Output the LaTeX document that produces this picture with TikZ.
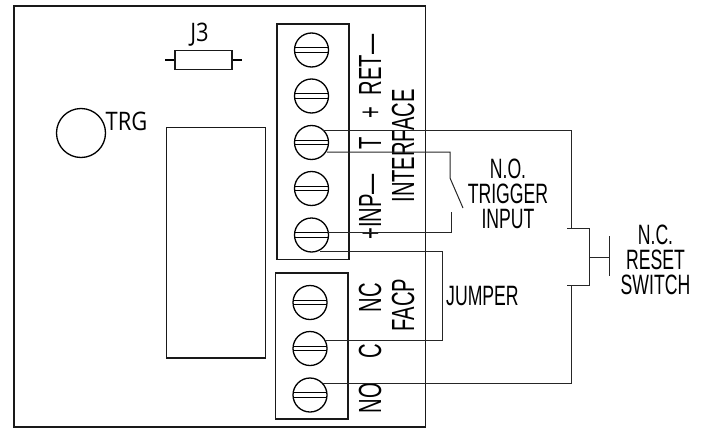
\documentclass[tikz,border=0pt]{standalone}
\usepackage{fontspec}
\setmainfont{Liberation Sans}
\newfontfamily\condf[FakeStretch=0.63]{Liberation Sans}
\newfontfamily\humf[FakeStretch=0.86]{Open Sans}
\usetikzlibrary{calc}
\tikzset{
  boxline/.style={draw=black!90,line width=1.8pt},
  wire/.style={draw=black!85,line width=1pt},
  screwhead/.style={circle,draw=black,line width=1.3pt,minimum size=34pt,inner sep=0pt},
  slot/.style={draw=black,line width=1.2pt},
  termlabel/.style={font=\condf\fontsize{32}{32}\selectfont,rotate=90,inner sep=0pt,text=black},
  sidelabel/.style={font=\condf\fontsize{28}{25}\selectfont,align=center,inner sep=0pt,text=black},
  humlabel/.style={font=\humf\fontsize{25.5}{25.5}\selectfont,inner sep=0pt,text=black}
}
\newcommand{\screwat}[3]{%
  \node[screwhead] (#1) at (#2,#3) {};
  \draw[slot] ($(#1)+(-16.5,-2.2)$) -- ($(#1)+(16.5,-2.2)$);
  \draw[slot] ($(#1)+(-16.5,2.2)$) -- ($(#1)+(16.5,2.2)$);
}
\begin{document}
\begin{tikzpicture}[x=1pt,y=-1pt]
\useasboundingbox (0,0) rectangle (708,428);
% board and blocks
\draw[boxline] (14,6) rectangle (425.5,427);
\draw[boxline] (277,24) rectangle (349,259.5);
\draw[boxline] (275.5,273) rectangle (348,419);
\draw[boxline] (166.5,127.5) rectangle (265.5,358);
% J3
\node[draw=black!90,line width=1.4pt,minimum width=57pt,minimum height=19pt,inner sep=0pt] (j3) at (203.5,60) {};
\coordinate (j3l) at (165,60);
\coordinate (j3r) at (241.5,60);
\draw[line width=1.2pt] (j3l) -- (j3.west);
\draw[line width=1.2pt] (j3.east) -- (j3r);
\node[humlabel] (j3t) at (199.5,34.5) {J3};
% TRG
\node[circle,draw=black,line width=1.3pt,minimum size=49pt,inner sep=0pt] (trg) at (81,133) {};
\node[humlabel,anchor=west] (trgt) at (105.5,121) {TRG};
% screws
\screwat{a}{311.5}{50}
\screwat{b}{311.5}{96}
\screwat{c}{311.5}{142.5}
\screwat{d}{311.5}{188.5}
\screwat{e}{311.5}{235}
\screwat{f}{310}{302.5}
\screwat{g}{310}{348.5}
\screwat{h}{310}{395}
% terminal labels
\node[termlabel] (ret) at (370,65) {RET—};
\node[termlabel] (plus) at (372,113) {+};
\node[termlabel] (tl) at (370,143) {T};
\node[termlabel] (inp) at (370,207) {+INP—};
\node[termlabel] (iface) at (403,146) {INTERFACE};
\node[termlabel] (nc) at (370,297.5) {NC};
\node[termlabel] (facp) at (403,305) {FACP};
\node[termlabel] (cl) at (370,351) {C};
\node[termlabel] (no) at (370,398) {NO};
% side labels
\node[sidelabel] (trig) at (508,194) {N.O.\\TRIGGER\\INPUT};
\node[sidelabel,anchor=west] (jump) at (446,296) {JUMPER};
\node[sidelabel] (reset) at (655.5,260) {N.C.\\RESET\\SWITCH};
% wires
\coordinate (w1) at (323,130.5);
\coordinate (w1c) at (571,130.5);
\coordinate (w1d) at (571,228.5);
\coordinate (sa) at (567,228.5);
\coordinate (sb) at (589,228.5);
\coordinate (sc) at (589,285);
\coordinate (sd) at (567,285);
\coordinate (se) at (571,285);
\coordinate (sf) at (571,383);
\coordinate (sg) at (323,383);
\coordinate (st) at (589,257);
\coordinate (sp) at (609,257);
\coordinate (bt) at (609,236);
\coordinate (bb) at (609,276);
\draw[wire] (w1) -- (w1c) -- (w1d);
\draw[wire] (sa) -- (sb) -- (sc) -- (sd);
\draw[wire] (se) -- (sf) -- (sg);
\draw[wire] (st) -- (sp);
\draw[wire] (bt) -- (bb);
\coordinate (t1) at (327,152);
\coordinate (t2) at (450,152);
\coordinate (t3) at (450,178);
\coordinate (t4) at (463,208);
\coordinate (t5) at (451,212);
\coordinate (t6) at (451,232.5);
\coordinate (t7) at (328,232.5);
\draw[wire] (t1) -- (t2) -- (t3) -- (t4);
\draw[wire] (t5) -- (t6) -- (t7);
\coordinate (j1) at (320,251);
\coordinate (j2) at (442,251);
\coordinate (j3a) at (442,340.5);
\coordinate (j4) at (325,340.5);
\draw[wire] (j1) -- (j2) -- (j3a) -- (j4);
\end{tikzpicture}
\end{document}
